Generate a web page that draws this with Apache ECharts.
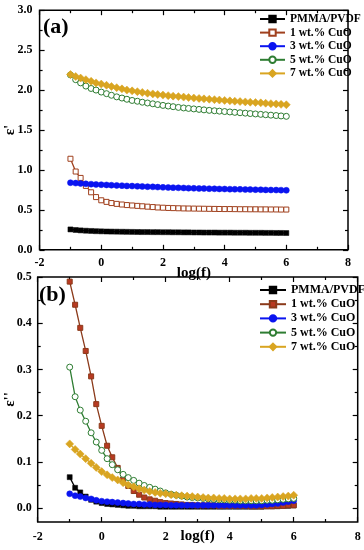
<!DOCTYPE html>
<html><head><meta charset="utf-8">
<script src="https://cdn.jsdelivr.net/npm/echarts@6/dist/echarts.min.js"></script>
<style>html,body{margin:0;padding:0;background:#fff}#c{width:364px;height:550px}</style>
</head><body><div id="c"></div>
<script>
// ---- data ----
const logF = [-1,-0.83,-0.67,-0.5,-0.33,-0.17,0,0.17,0.33,0.5,0.67,0.83,1,1.17,1.33,1.5,1.67,1.83,2,2.17,2.33,2.5,2.67,2.83,3,3.17,3.33,3.5,3.67,3.83,4,4.17,4.33,4.5,4.67,4.83,5,5.17,5.33,5.5,5.67,5.83,6];
const seriesNames = ['PMMA/PVDF','1 wt.% CuO','3 wt.% CuO','5 wt.% CuO','7 wt.% CuO'];
// (a) real permittivity
const eps1_PMMA = [0.255,0.248,0.243,0.239,0.236,0.233,0.231,0.229,0.228,0.227,0.226,0.225,0.224,0.223,0.222,0.222,0.221,0.221,0.22,0.22,0.219,0.219,0.218,0.218,0.217,0.217,0.216,0.216,0.216,0.215,0.215,0.215,0.214,0.214,0.214,0.213,0.213,0.213,0.212,0.212,0.211,0.211,0.21];
const eps1_1wt = [1.14,0.98,0.9,0.8,0.72,0.66,0.62,0.6,0.585,0.575,0.567,0.56,0.555,0.55,0.545,0.54,0.535,0.53,0.527,0.524,0.522,0.52,0.518,0.517,0.516,0.515,0.514,0.513,0.512,0.511,0.51,0.51,0.509,0.508,0.508,0.507,0.507,0.506,0.506,0.505,0.505,0.504,0.504];
const eps1_3wt = [0.84,0.835,0.83,0.826,0.822,0.818,0.815,0.812,0.809,0.806,0.803,0.8,0.798,0.795,0.793,0.79,0.788,0.785,0.782,0.78,0.778,0.776,0.774,0.772,0.77,0.768,0.767,0.765,0.764,0.762,0.761,0.759,0.758,0.757,0.755,0.754,0.753,0.752,0.75,0.749,0.748,0.747,0.745];
const eps1_5wt = [2.19,2.13,2.09,2.05,2.02,2.0,1.975,1.955,1.935,1.915,1.9,1.885,1.87,1.86,1.848,1.838,1.828,1.818,1.808,1.8,1.792,1.783,1.776,1.77,1.764,1.758,1.752,1.746,1.741,1.736,1.731,1.726,1.721,1.716,1.711,1.706,1.701,1.696,1.691,1.686,1.681,1.676,1.671];
const eps1_7wt = [2.195,2.17,2.15,2.13,2.11,2.09,2.075,2.06,2.045,2.03,2.015,2.0,1.99,1.98,1.97,1.96,1.952,1.944,1.937,1.93,1.924,1.918,1.912,1.906,1.9,1.895,1.89,1.885,1.88,1.875,1.87,1.865,1.86,1.856,1.852,1.848,1.844,1.84,1.835,1.83,1.826,1.821,1.816];
// (b) imaginary permittivity
const eps2_PMMA = [0.067,0.044,0.034,0.025,0.018,0.014,0.011,0.009,0.008,0.007,0.006,0.005,0.005,0.004,0.004,0.004,0.004,0.003,0.003,0.003,0.003,0.003,0.003,0.003,0.003,0.003,0.003,0.003,0.003,0.003,0.003,0.003,0.003,0.003,0.003,0.003,0.003,0.004,0.004,0.004,0.005,0.005,0.006];
const eps2_1wt = [0.49,0.44,0.39,0.34,0.285,0.225,0.178,0.135,0.11,0.087,0.062,0.048,0.037,0.029,0.023,0.019,0.016,0.013,0.011,0.01,0.009,0.008,0.007,0.007,0.006,0.006,0.006,0.006,0.005,0.005,0.005,0.005,0.005,0.005,0.004,0.004,0.004,0.004,0.004,0.005,0.005,0.006,0.006];
const eps2_3wt = [0.031,0.027,0.025,0.022,0.02,0.017,0.015,0.014,0.013,0.012,0.011,0.01,0.009,0.009,0.008,0.008,0.007,0.007,0.007,0.006,0.006,0.006,0.006,0.006,0.006,0.006,0.006,0.006,0.006,0.006,0.006,0.006,0.006,0.006,0.006,0.006,0.007,0.008,0.009,0.01,0.012,0.014,0.016];
const eps2_5wt = [0.305,0.241,0.212,0.188,0.163,0.143,0.125,0.107,0.094,0.083,0.073,0.066,0.06,0.054,0.049,0.045,0.041,0.037,0.033,0.03,0.028,0.026,0.024,0.023,0.022,0.021,0.02,0.019,0.018,0.018,0.017,0.017,0.016,0.016,0.016,0.016,0.016,0.017,0.017,0.018,0.019,0.02,0.021];
const eps2_7wt = [0.139,0.127,0.117,0.107,0.097,0.088,0.079,0.072,0.066,0.061,0.055,0.05,0.046,0.042,0.039,0.036,0.034,0.032,0.031,0.029,0.028,0.027,0.026,0.025,0.024,0.023,0.022,0.022,0.021,0.021,0.02,0.02,0.02,0.02,0.021,0.021,0.021,0.022,0.023,0.024,0.025,0.026,0.028];
// ticks
const xTicks = [-2,0,2,4,6,8];
const xMinor = [-1,1,3,5,7];
const y1Ticks = [0,0.5,1,1.5,2,2.5,3];
const y1Minor = [0.25,0.75,1.25,1.75,2.25,2.75];
const y2Ticks = [0,0.1,0.2,0.3,0.4,0.5];
const y2Minor = [0.05,0.15,0.25,0.35,0.45];

// ---- styles ----
const FONT = '"Liberation Serif","Times New Roman",serif';
const C = {black:'#000000', brown:'#a0401e', red:'#b83a22', blue:'#0a14f0', green:'#2e7d32', gold:'#d9a521'};
const zip = ys => logF.map((x,i)=>[x, ys[i]]);
const labelStyle = {color:'#000', fontFamily:FONT, fontWeight:'bold', fontSize:12};
const nameStyle = {color:'#000', fontFamily:FONT, fontWeight:'bold', fontSize:15};

function tickAxis(grid, pos, min, max, ticks, len, label){
  const a = {
    type:'value', gridIndex:grid, position:pos, min, max,
    axisLine:{show:false, onZero:false},
    axisTick:{show:true, inside:true, length:len, customValues:ticks, lineStyle:{color:'#000', width:1.2}},
    minorTick:{show:false}, splitLine:{show:false}, minorSplitLine:{show:false},
    axisLabel:{show:false}, nameMoveOverlap:false
  };
  if (label) {
    a.axisLabel = Object.assign({show:true, customValues:ticks, margin:label.margin,
      formatter: label.fmt || (v=>String(v))}, labelStyle);
    if (label.name) Object.assign(a, {name:label.name, nameLocation:'middle', nameGap:label.gap,
      nameTextStyle:nameStyle, nameMoveOverlap:false});
  }
  return a;
}
const f1 = v=>v.toFixed(1);
const xAxes = [
  tickAxis(0,'bottom',-2,8,xTicks,5,{margin:7, name:'log(f)', gap:16}),
  tickAxis(0,'bottom',-2,8,xMinor,3),
  tickAxis(0,'top',-2,8,xTicks,5),
  tickAxis(0,'top',-2,8,xMinor,3),
  tickAxis(1,'bottom',-2,8,xTicks,5,{margin:9, name:'log(f)', gap:7}),
  tickAxis(1,'bottom',-2,8,xMinor,3),
  tickAxis(1,'top',-2,8,xTicks,5),
  tickAxis(1,'top',-2,8,xMinor,3)
];
const yAxes = [
  tickAxis(0,'left',0,3,y1Ticks,5,{margin:7, fmt:f1, name:"ε'", gap:22}),
  tickAxis(0,'left',0,3,y1Minor,3),
  tickAxis(0,'right',0,3,y1Ticks,5),
  tickAxis(0,'right',0,3,y1Minor,3),
  tickAxis(1,'left',-0.03,0.5,y2Ticks,5,{margin:6, fmt:f1, name:"ε''", gap:20}),
  tickAxis(1,'left',-0.03,0.5,y2Minor,3),
  tickAxis(1,'right',-0.03,0.5,y2Ticks,5),
  tickAxis(1,'right',-0.03,0.5,y2Minor,3)
];

function mk(name, ys, xi, yi, color, symbol, size, fill){
  return {
    name, type:'line', xAxisIndex:xi, yAxisIndex:yi, data:zip(ys),
    symbol, symbolSize:size, showAllSymbol:true,
    lineStyle:{color, width:1.3},
    itemStyle:{color: fill || color, borderColor:color, borderWidth: fill ? 1 : 0.5},
    animation:false
  };
}
const P = 'b:';
const series = [
  mk(seriesNames[0], eps1_PMMA, 0, 0, C.black, 'rect', 5),
  mk(seriesNames[1], eps1_1wt, 0, 0, C.brown, 'rect', 5, '#ffffff'),
  mk(seriesNames[2], eps1_3wt, 0, 0, C.blue, 'circle', 6),
  mk(seriesNames[3], eps1_5wt, 0, 0, C.green, 'circle', 6, '#ffffff'),
  mk(seriesNames[4], eps1_7wt, 0, 0, C.gold, 'diamond', 8),
  mk(P+seriesNames[0], eps2_PMMA, 4, 4, C.black, 'rect', 5),
  mk(P+seriesNames[1], eps2_1wt, 4, 4, '#8b3a1a', 'rect', 5, C.red),
  mk(P+seriesNames[2], eps2_3wt, 4, 4, C.blue, 'circle', 6),
  mk(P+seriesNames[3], eps2_5wt, 4, 4, C.green, 'circle', 6, '#ffffff'),
  mk(P+seriesNames[4], eps2_7wt, 4, 4, C.gold, 'diamond', 8)
];
const legTxt = {color:'#000', fontFamily:FONT, fontWeight:'bold', fontSize:11.5, lineHeight:10};
const gridBox = {show:true, borderColor:'#000', borderWidth:1.5, backgroundColor:'transparent',
  outerBoundsMode:'none', containLabel:false};
const option = {
  animation:false,
  backgroundColor:'#fff',
  grid:[
    Object.assign({left:39.6, top:10.2, width:308.4, height:239.6}, gridBox),
    Object.assign({left:37.7, top:277, width:320, height:245}, gridBox)
  ],
  xAxis:xAxes, yAxis:yAxes, series,
  legend:[
    {data:seriesNames, orient:'vertical', left:254, top:8, itemWidth:25, itemHeight:8, itemGap:1.6,
     textStyle:legTxt, selectedMode:false},
    {data:seriesNames.map(n=>P+n), orient:'vertical', left:254, top:279, itemWidth:26, itemHeight:8, itemGap:2.2,
     formatter:n=>n.replace(P,''), textStyle:Object.assign({}, legTxt, {fontSize:12}), selectedMode:false}
  ],
  graphic:[
    {type:'text', left:43, top:16, style:{text:'(a)', fontFamily:FONT, fontWeight:'bold', fontSize:22, fill:'#000'}},
    {type:'text', left:39, top:284, style:{text:'(b)', fontFamily:FONT, fontWeight:'bold', fontSize:22, fill:'#000'}}
  ]
};
const chart = echarts.init(document.getElementById('c'), null, {renderer:'canvas'});
chart.setOption(option);
</script></body></html>
